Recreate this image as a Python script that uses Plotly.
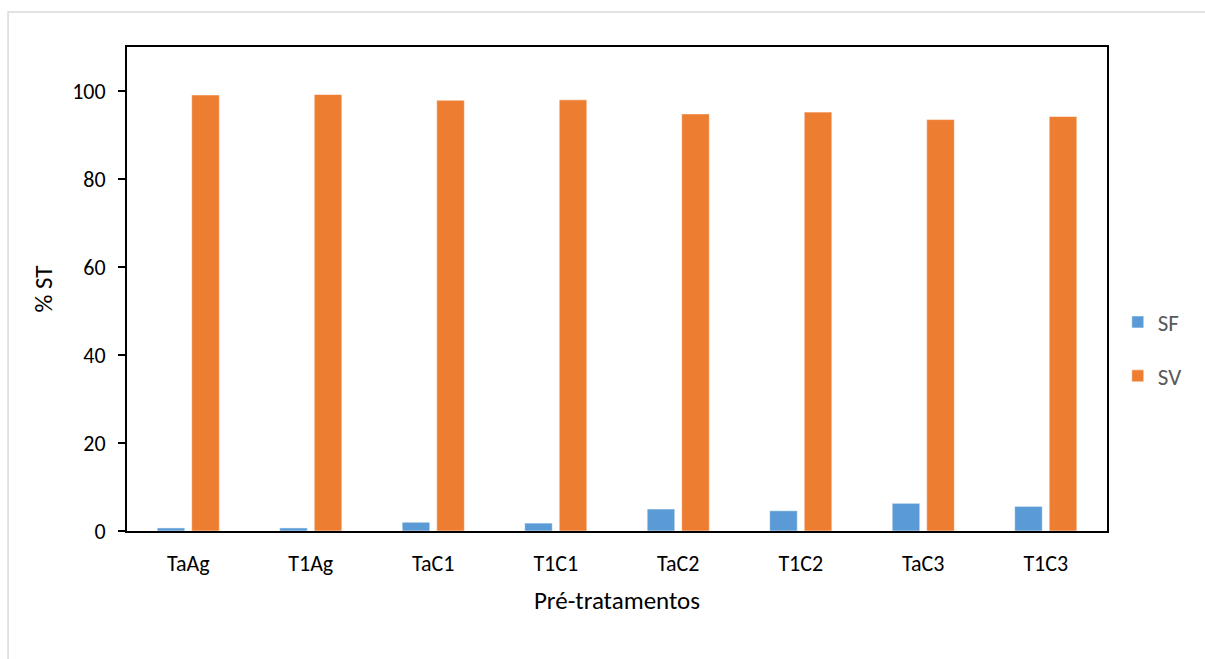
import plotly.graph_objects as go

# Pre-treatment categories and solids fractions (% of total solids)
categories = ["TaAg", "T1Ag", "TaC1", "T1C1", "TaC2", "T1C2", "TaC3", "T1C3"]
sf_values = [0.7, 0.7, 2.0, 1.8, 5.0, 4.6, 6.3, 5.6]
sv_values = [99.1, 99.2, 97.9, 98.0, 94.8, 95.2, 93.5, 94.2]
y_ticks = [0, 20, 40, 60, 80, 100]

FONT = "Carlito, Calibri, Lato, sans-serif"

fig = go.Figure()
fig.add_trace(go.Bar(
    name="SF", x=categories, y=sf_values, legendgroup="sf",
    marker=dict(color="#5B9BD5", line=dict(color="rgba(255,255,255,0.55)", width=1)),
))
fig.add_trace(go.Bar(
    name="SV", x=categories, y=sv_values, legendgroup="sv",
    marker=dict(color="#ED7D31", line=dict(color="rgba(255,255,255,0.55)", width=1)),
))

fig.update_layout(
    width=1205, height=659,
    margin=dict(l=127, r=98, t=47, b=128),
    paper_bgcolor="white", plot_bgcolor="white",
    barmode="group", bargap=0.436, bargroupgap=0.2,
    font=dict(family=FONT, size=22, color="#000000"),
    legend=dict(
        x=1.011, y=0.376, xanchor="left", yanchor="middle",
        font=dict(family=FONT, size=23, color="#595959"),
        traceorder="grouped", tracegroupgap=21,
        itemwidth=30, bgcolor="rgba(0,0,0,0)",
    ),
    xaxis=dict(
        showline=True, linecolor="black", linewidth=2, mirror=True,
        ticks="", showgrid=False, ticklabelstandoff=12,
        tickfont=dict(family=FONT, size=22, color="#000000"),
        title=dict(text="Pré-tratamentos", font=dict(family=FONT, size=25, color="#000000"), standoff=15),
    ),
    yaxis=dict(
        range=[0, 110], tickvals=y_ticks,
        showline=True, linecolor="black", linewidth=2, mirror=True,
        ticks="outside", ticklen=7, tickcolor="black", tickwidth=1.5,
        showgrid=False, zeroline=False, ticklabelstandoff=8,
        tickfont=dict(family=FONT, size=22, color="#000000"),
        title=dict(text="% ST", font=dict(family=FONT, size=25, color="#000000"), standoff=12),
    ),
    shapes=[dict(
        type="rect", xref="paper", yref="paper",
        x0=-0.1214, x1=1.25, y0=-0.4, y1=1.0723,
        line=dict(color="#d9d9d9", width=1.5), layer="below",
    )],
)

fig.write_html("out.html")
